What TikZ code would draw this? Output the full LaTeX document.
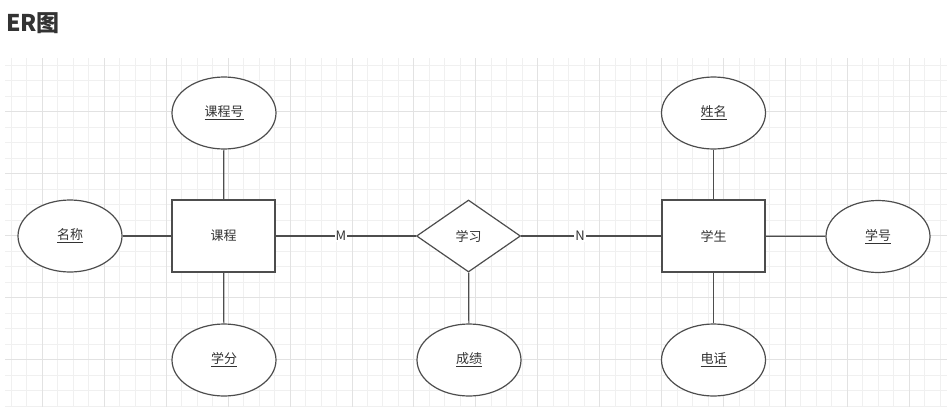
\documentclass[tikz,border=0pt]{standalone}
\usepackage{fontspec}
\setmainfont{Noto Sans CJK SC}
\usetikzlibrary{shapes.geometric}
\definecolor{linec}{HTML}{4D4D4D}
\definecolor{txtc}{HTML}{333333}
\definecolor{gminor}{HTML}{F0F0F0}
\definecolor{gmajor}{HTML}{E2E2E2}
\tikzset{
  attr/.style={ellipse, draw=linec, line width=1.2pt, fill=white, minimum width=104pt, minimum height=72pt, inner sep=0pt, text=txtc, font=\fontsize{13}{15}\selectfont},
  entity/.style={rectangle, draw=linec, line width=1.2pt, fill=white, minimum width=103pt, minimum height=72pt, inner sep=0pt, text=txtc, font=\fontsize{13}{15}\selectfont},
  rel/.style={diamond, draw=linec, line width=1.2pt, fill=white, minimum width=104pt, minimum height=72pt, inner sep=0pt, text=txtc, font=\fontsize{13}{15}\selectfont},
  conn/.style={draw=linec, line width=1.2pt},
  card/.style={fill=white, inner sep=1pt, text=txtc, font=\fontsize{13}{15}\selectfont},
}
\begin{document}
\begin{tikzpicture}[x=1pt,y=-1pt]
\useasboundingbox (0,0) rectangle (947,407);
\fill[white] (0,0) rectangle (947,407);
% grid
\begin{scope}
\clip (5,58) rectangle (947,407);
\foreach \k in {0,...,60} {\draw[gminor, line width=0.8pt] ({11.34+\k*15.48},58) -- ({11.34+\k*15.48},407);}
\foreach \k in {0,...,22} {\draw[gminor, line width=0.8pt] (5,{65.2+\k*15.5}) -- (947,{65.2+\k*15.5});}
\foreach \k in {2,6,...,58} {\draw[gmajor, line width=0.8pt] ({11.34+\k*15.48},58) -- ({11.34+\k*15.48},407);}
\foreach \k in {3,7,...,19} {\draw[gmajor, line width=0.8pt] (5,{65.2+\k*15.5}) -- (947,{65.2+\k*15.5});}
\end{scope}
% title
\node[anchor=base west, inner sep=0pt, text=txtc, font=\bfseries\fontsize{23}{25}\selectfont] (title) at (6,31) {ER图};
% nodes
\node[entity] (kc) at (223.5,236) {课程};
\node[entity] (xs) at (713.5,236) {学生};
\node[rel] (xx) at (468.5,236) {学习};
\node[attr] (kch) at (224,113) {\underline{课程号}};
\node[attr] (mc) at (70,236) {\underline{名称}};
\node[attr] (xf) at (224,360) {\underline{学分}};
\node[attr] (cj) at (469,360) {\underline{成绩}};
\node[attr] (xm) at (713.5,113) {\underline{姓名}};
\node[attr] (xh) at (878,236.5) {\underline{学号}};
\node[attr] (dh) at (713.5,360) {\underline{电话}};
\node[card] (m) at (341,236) {M};
\node[card] (n) at (580,236) {N};
% connectors
\path[conn] (kch) -- (kc);
\path[conn] (mc) -- (kc);
\path[conn] (kc) -- (xf);
\path[conn] (kc) -- (m) -- (xx);
\path[conn] (xx) -- (n) -- (xs);
\path[conn] (xx) -- (cj);
\path[conn] (xm) -- (xs);
\path[conn] (xs) -- (xh);
\path[conn] (xs) -- (dh);
\end{tikzpicture}
\end{document}
